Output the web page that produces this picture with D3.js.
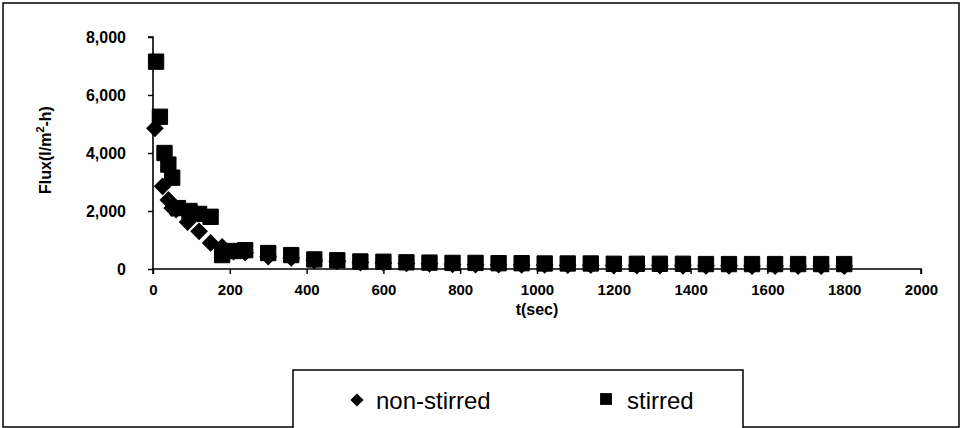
<!DOCTYPE html>
<html>
<head>
<script src="https://d3js.org/d3.v7.min.js"></script>
<style>
  body { margin: 0; background: #fff; }
  svg { font-family: 'Liberation Sans', Arial, sans-serif; }
</style>
</head>
<body>
<div id="chart"></div>
<script>
// time (s) and flux (l/m2-h)
var tNon = [5, 25, 40, 50, 60, 90, 120, 150, 180, 210, 240, 300, 360, 420, 480, 540, 600, 660, 720, 780, 840, 900, 960, 1020, 1080, 1140, 1200, 1260, 1320, 1380, 1440, 1500, 1560, 1620, 1680, 1740, 1800];
var fluxNon = [4850, 2850, 2380, 2100, 2050, 1620, 1300, 900, 760, 600, 560, 430, 380, 290, 270, 220, 210, 190, 180, 160, 150, 150, 140, 140, 130, 130, 120, 120, 120, 110, 110, 110, 100, 100, 100, 100, 100];
var tStir = [8, 18, 30, 40, 50, 65, 95, 120, 150, 180, 210, 240, 300, 360, 420, 480, 540, 600, 660, 720, 780, 840, 900, 960, 1020, 1080, 1140, 1200, 1260, 1320, 1380, 1440, 1500, 1560, 1620, 1680, 1740, 1800];
var fluxStir = [7150, 5250, 4000, 3600, 3150, 2100, 2000, 1900, 1800, 480, 620, 650, 550, 480, 330, 300, 260, 250, 230, 220, 210, 210, 200, 200, 190, 190, 190, 180, 180, 180, 180, 170, 170, 170, 170, 170, 170, 170];
var xTicks = [0, 200, 400, 600, 800, 1000, 1200, 1400, 1600, 1800, 2000];
var yTicks = [0, 2000, 4000, 6000, 8000];
var seriesNames = ["non-stirred", "stirred"];

var W = 962, H = 428;
var svg = d3.select("#chart").append("svg").attr("width", W).attr("height", H);

// outer frame
svg.append("rect").attr("x", 3).attr("y", 3).attr("width", 956).attr("height", 424)
  .attr("fill", "none").attr("stroke", "#000").attr("stroke-width", 1.5);

var x = d3.scaleLinear().domain([0, 2000]).range([153, 921]);
var y = d3.scaleLinear().domain([0, 8000]).range([269, 37]);

var xAxis = svg.append("g").attr("transform", "translate(0,269)")
  .call(d3.axisBottom(x).tickValues(xTicks).tickSize(5).tickPadding(10).tickFormat(d3.format("d")));
var yAxis = svg.append("g").attr("transform", "translate(153,0)")
  .call(d3.axisLeft(y).tickValues(yTicks).tickSize(5).tickPadding(22).tickFormat(d3.format(",")));

[xAxis, yAxis].forEach(function (a) {
  a.select(".domain").attr("stroke", "#000").attr("stroke-width", 1.6);
  a.selectAll(".tick line").attr("stroke", "#000").attr("stroke-width", 1.4);
  a.selectAll(".tick text").attr("fill", "#000").attr("font-size", 15).attr("font-weight", "bold")
    .attr("font-family", "'Liberation Sans', Arial, sans-serif");
});
yAxis.selectAll(".tick text").attr("font-size", 16);
xAxis.select(".domain").attr("d", "M153,5V0H921V5");
yAxis.select(".domain").attr("d", "M-5,37H0V269");

// axis titles
svg.append("text").attr("x", 537).attr("y", 315).attr("text-anchor", "middle")
  .attr("font-size", 16).attr("font-weight", "bold").text("t(sec)");
var yt = svg.append("text").attr("transform", "translate(51,150) rotate(-90)")
  .attr("text-anchor", "middle").attr("font-size", 16).attr("font-weight", "bold");
yt.append("tspan").text("Flux(l/m");
yt.append("tspan").attr("dy", -7).attr("font-size", 11).text("2");
yt.append("tspan").attr("dy", 7).text("-h)");

var diamond = d3.symbol().type(d3.symbolDiamond2).size(200);
var square = d3.symbol().type(d3.symbolSquare).size(235);

var nonData = tNon.map(function (t, i) { return [t, fluxNon[i]]; });
var stirData = tStir.map(function (t, i) { return [t, fluxStir[i]]; });

svg.append("g").selectAll("path").data(nonData).join("path")
  .attr("d", diamond).attr("fill", "#000")
  .attr("transform", function (d) { return "translate(" + x(d[0]) + "," + y(d[1]) + ")"; });
svg.append("g").selectAll("path").data(stirData).join("path")
  .attr("d", square).attr("fill", "#000").attr("stroke", "#000").attr("stroke-width", 1).attr("stroke-linejoin", "round")
  .attr("transform", function (d) { return "translate(" + x(d[0]) + "," + y(d[1]) + ")"; });

// legend
var lg = svg.append("g");
lg.append("rect").attr("x", 293).attr("y", 370).attr("width", 450).attr("height", 70)
  .attr("fill", "#fff").attr("stroke", "#000").attr("stroke-width", 1.5);
lg.append("path").attr("d", d3.symbol().type(d3.symbolDiamond2).size(110))
  .attr("transform", "translate(357,400)").attr("fill", "#000");
lg.append("text").attr("x", 376).attr("y", 409).attr("font-size", 24).text(seriesNames[0]);
lg.append("path").attr("d", d3.symbol().type(d3.symbolSquare).size(140))
  .attr("transform", "translate(606,399)").attr("fill", "#000");
lg.append("text").attr("x", 627).attr("y", 409).attr("font-size", 24).text(seriesNames[1]);
</script>
</body>
</html>
